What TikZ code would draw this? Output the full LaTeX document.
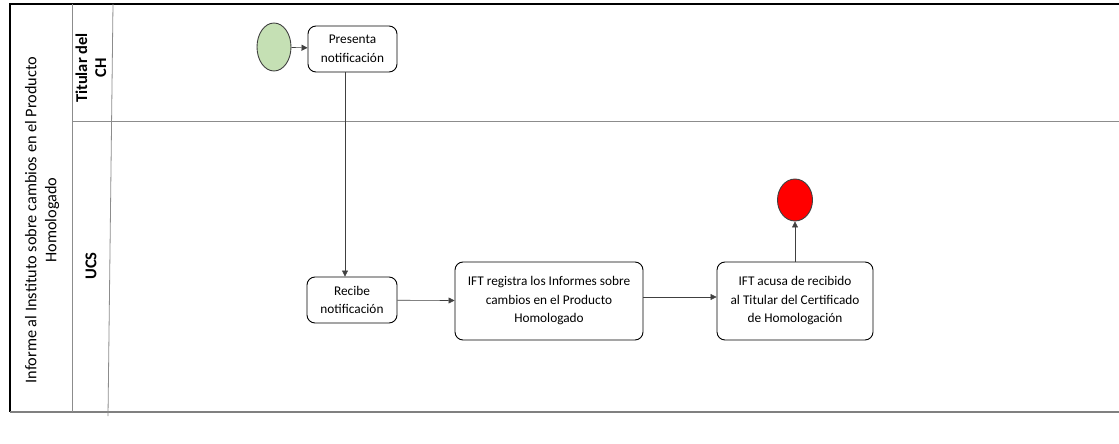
\documentclass[tikz,border=0pt]{standalone}
\usepackage{fontspec}
\setmainfont{Carlito}
\usetikzlibrary{arrows.meta,shapes.geometric}
\definecolor{startgreen}{HTML}{C5E0B4}
\definecolor{lanegray}{HTML}{8C8C8C}
\definecolor{arrowgray}{HTML}{404040}
\tikzset{
  task/.style={draw=black, line width=0.9pt, rounded corners=8pt, align=center, inner sep=0pt, font=\fontsize{13.3}{18.5}\selectfont},
  event/.style={ellipse, draw=arrowgray, line width=0.9pt, inner sep=0pt},
  flow/.style={draw=arrowgray, line width=0.6pt, -{Triangle[length=6pt,width=6pt]}},
  lanelbl/.style={rotate=90, align=center, font=\fontsize{16.5}{19}\selectfont\bfseries},
  poollbl/.style={rotate=90, align=center, font=\fontsize{16.3}{20}\selectfont},
  laneline/.style={draw=lanegray, line width=0.8pt}
}
\begin{document}
\begin{tikzpicture}[x=1pt,y=-1pt]
\useasboundingbox (0,0) rectangle (1119,444);
% pool frame
\draw[draw=black, line width=1.3pt] (1119,4) -- (10,4) -- (10,412);
\draw[draw=gray, line width=1.5pt] (10,412) -- (1119,412);
\draw[laneline] (72,4) -- (72,412);
\draw[laneline] (113,4) -- (108,416);
\draw[laneline] (72,121) -- (1119,121);
% labels
\node[poollbl] (pool) at (42,220) {Informe al Instituto sobre cambios en el Producto\\Homologado};
\node[lanelbl] (lane1) at (91,68) {Titular del\\CH};
\node[lanelbl] (lane2) at (91,266) {UCS};
% nodes
\node[event, fill=startgreen, minimum width=34pt, minimum height=48pt] (start) at (274,47) {};
\node[task, minimum width=89pt, minimum height=46pt] (pres) at (352.5,49) {Presenta\\notificación};
\node[task, minimum width=90pt, minimum height=46pt] (rec) at (352,300) {Recibe\\notificación};
\node[task, minimum width=188pt, minimum height=78pt] (reg) at (549,301) {IFT registra los Informes sobre\\cambios en el Producto\\Homologado};
\node[task, minimum width=156pt, minimum height=78pt] (acu) at (795,301) {IFT acusa de recibido\\al Titular del Certificado\\de Homologación};
\node[event, fill=red, minimum width=35pt, minimum height=42pt] (end) at (795,200) {};
% connectors
\draw[flow] (start) -- (pres);
\draw[flow] ([xshift=-7.5pt]pres.south) -- ([xshift=-7pt]rec.north);
\draw[flow] (rec) -- (reg);
\draw[flow] ([yshift=4pt]reg.east) -- ([yshift=4pt]acu.west);
\draw[flow] (acu) -- (end);
\end{tikzpicture}
\end{document}
